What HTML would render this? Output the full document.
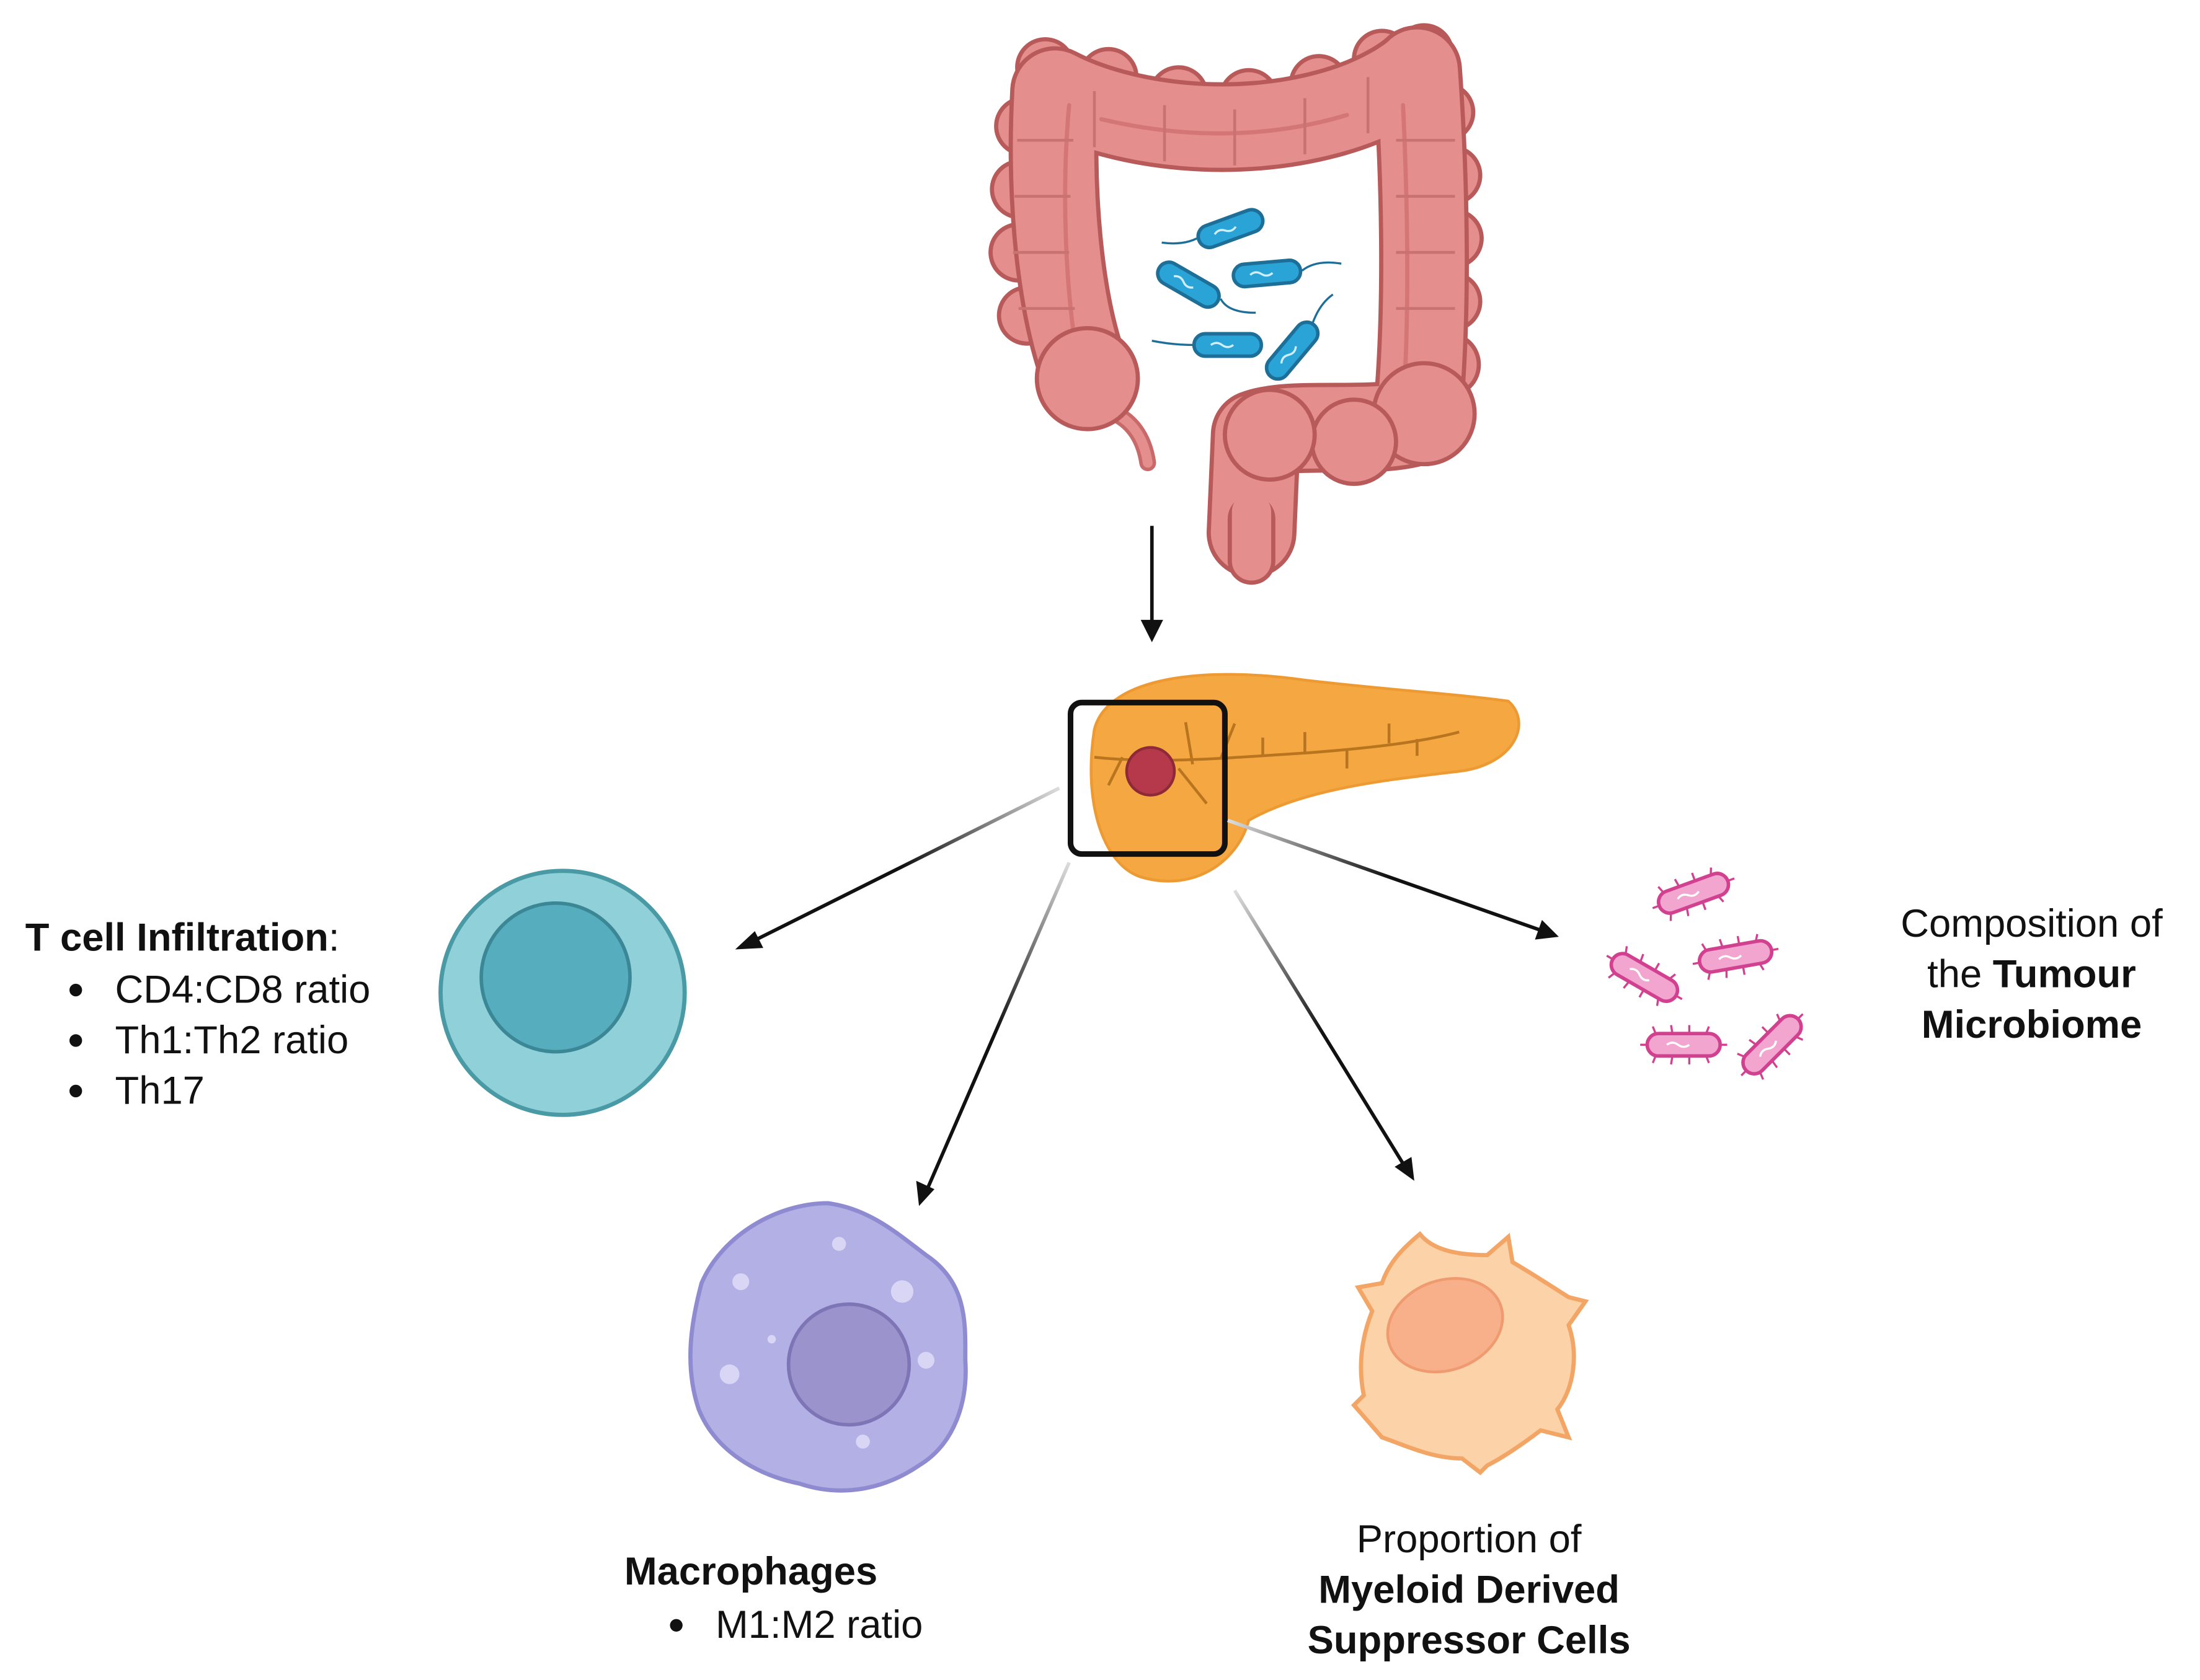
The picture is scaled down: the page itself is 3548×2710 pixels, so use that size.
<!DOCTYPE html>
<html><head><meta charset="utf-8"><style>
html,body{margin:0;padding:0;background:#fff;}
svg{display:block;}
text{font-family:"Liberation Sans",Arial,sans-serif;fill:#111;}
</style></head><body>
<svg width="3548" height="2710" viewBox="0 0 1568 1198" preserveAspectRatio="none" xmlns="http://www.w3.org/2000/svg">
<defs>
<linearGradient id="g1" gradientUnits="userSpaceOnUse" x1="755" y1="562" x2="530" y2="675"><stop offset="0" stop-color="#ddd"/><stop offset="0.5" stop-color="#111"/></linearGradient>
<linearGradient id="g2" gradientUnits="userSpaceOnUse" x1="762" y1="615" x2="658" y2="855"><stop offset="0" stop-color="#ddd"/><stop offset="0.5" stop-color="#111"/></linearGradient>
<linearGradient id="g3" gradientUnits="userSpaceOnUse" x1="880" y1="635" x2="1005" y2="838"><stop offset="0" stop-color="#ddd"/><stop offset="0.5" stop-color="#111"/></linearGradient>
<linearGradient id="g4" gradientUnits="userSpaceOnUse" x1="875" y1="585" x2="1105" y2="666"><stop offset="0" stop-color="#ddd"/><stop offset="0.5" stop-color="#111"/></linearGradient>
<g id="bb"><rect x="-24" y="-8" width="48" height="16" rx="8" fill="#2aa3d6" stroke="#1e6f98" stroke-width="2.5"/><path d="M-12,0 q4,-3 8,0 t8,0" stroke="#cdeefa" fill="none" stroke-width="1.5"/></g>
<g id="pb"><g stroke="#d2418f" stroke-width="1.5"><line x1="-20" y1="-8" x2="-22" y2="-13"/><line x1="-8" y1="-8" x2="-9" y2="-14"/><line x1="4" y1="-8" x2="4" y2="-14"/><line x1="16" y1="-8" x2="18" y2="-13"/><line x1="-20" y1="8" x2="-22" y2="13"/><line x1="-8" y1="8" x2="-9" y2="14"/><line x1="4" y1="8" x2="4" y2="14"/><line x1="16" y1="8" x2="18" y2="13"/><line x1="-26" y1="0" x2="-31" y2="0"/><line x1="26" y1="0" x2="31" y2="0"/></g><rect x="-26" y="-8" width="52" height="16" rx="8" fill="#f2a6cf" stroke="#d2418f" stroke-width="2.5"/><path d="M-12,0 q4,-3 8,0 t8,0" stroke="#fff" fill="none" stroke-width="1.5"/></g>
</defs>

<!-- colon lumps -->
<g fill="#e58e8e" stroke="#b85a5a" stroke-width="3">
<circle cx="745" cy="48" r="20"/><circle cx="730" cy="90" r="20"/><circle cx="727" cy="135" r="20"/><circle cx="726" cy="180" r="20"/><circle cx="732" cy="225" r="20"/>
<circle cx="790" cy="55" r="20"/><circle cx="840" cy="68" r="20"/><circle cx="890" cy="70" r="20"/><circle cx="940" cy="60" r="20"/><circle cx="985" cy="42" r="20"/><circle cx="1015" cy="38" r="20"/>
<circle cx="1030" cy="80" r="20"/><circle cx="1035" cy="125" r="20"/><circle cx="1036" cy="170" r="20"/><circle cx="1035" cy="215" r="20"/><circle cx="1032" cy="260" r="22"/>
</g>
<g fill="none" stroke-linecap="round" stroke-linejoin="round">
<path d="M818,330 C815,310 805,300 795,295" stroke="#c96a6a" stroke-width="12"/>
<path d="M818,330 C815,310 805,300 795,295" stroke="#e58e8e" stroke-width="7"/>
<path d="M775,270 C755,220 748,140 752,65 C800,90 880,100 950,80 C985,70 1005,55 1010,50 C1015,120 1018,220 1010,300 C980,310 920,300 895,310 L892,380" stroke="#b85a5a" stroke-width="64"/>
<path d="M775,270 C755,220 748,140 752,65 C800,90 880,100 950,80 C985,70 1005,55 1010,50 C1015,120 1018,220 1010,300 C980,310 920,300 895,310 L892,380" stroke="#e58e8e" stroke-width="58"/>
<path d="M892,370 L892,400" stroke="#b85a5a" stroke-width="34"/>
<path d="M892,365 L892,400" stroke="#e58e8e" stroke-width="28"/>
<path d="M770,265 C760,220 756,140 762,75 M785,85 C840,98 900,100 960,82 M1000,75 C1003,140 1005,220 1000,290" stroke="#d57676" stroke-width="3"/>
</g>
<g fill="#e58e8e" stroke="#b85a5a" stroke-width="3">
<circle cx="775" cy="270" r="36"/><circle cx="1015" cy="295" r="36"/><circle cx="965" cy="315" r="30"/><circle cx="905" cy="310" r="32"/>
</g>
<g fill="none" stroke="#c97272" stroke-width="2">
<path d="M725,100 h40 M723,140 h40 M722,180 h40 M726,220 h40 M780,65 v40 M830,75 v40 M880,78 v40 M930,70 v40 M975,55 v40 M995,100 h42 M995,140 h42 M995,180 h42 M995,220 h42"/>
</g>
<!-- colon bacteria -->
<use href="#bb" transform="translate(877,163) rotate(-20)"/>
<use href="#bb" transform="translate(847,203) rotate(30)"/>
<use href="#bb" transform="translate(903,195) rotate(-5)"/>
<use href="#bb" transform="translate(875,246)"/>
<use href="#bb" transform="translate(921,250) rotate(-50)"/>
<g stroke="#1e6f98" stroke-width="1.5" fill="none">
<path d="M853,170 q-10,5 -25,3"/><path d="M870,213 q5,10 25,10"/><path d="M928,193 q10,-8 28,-5"/><path d="M851,246 q-15,0 -30,-3"/><path d="M935,232 q5,-15 15,-22"/>
</g>

<!-- down arrow -->
<line x1="821" y1="375" x2="821" y2="445" stroke="#111" stroke-width="2.5"/>
<path d="M813,442 L821,458 L829,442Z" fill="#111"/>

<!-- pancreas -->
<path d="M780,520 C790,482 860,475 930,485 C990,492 1040,495 1075,500 C1092,515 1080,545 1040,550 C990,556 930,562 890,585 C882,615 850,637 812,625 C785,615 772,570 780,520Z" fill="#f5a742" stroke="#ee9a33" stroke-width="2"/>
<g fill="none" stroke="#b8741f" stroke-width="2">
<path d="M780,540 C830,545 880,540 930,537 C970,534 1010,530 1040,522"/>
<path d="M900,538 v-12 M930,536 v-14 M960,534 v14 M990,530 v-14 M1010,527 v12 M800,540 l-10,20 M840,548 l20,25 M850,545 l-5,-30 M870,541 l10,-25"/>
</g>
<circle cx="820" cy="550" r="17" fill="#b5394a" stroke="#8e2a38" stroke-width="2"/>
<rect x="763" y="501" width="110" height="108" rx="8" fill="none" stroke="#111" stroke-width="4"/>

<!-- arrows -->
<line x1="755" y1="562" x2="535" y2="672" stroke="url(#g1)" stroke-width="2.5"/>
<path d="M524,677 L538,664 L544,676Z" fill="#111"/>
<line x1="762" y1="615" x2="660" y2="850" stroke="url(#g2)" stroke-width="2.5"/>
<path d="M655,860 L653,842 L666,848Z" fill="#111"/>
<line x1="880" y1="635" x2="1002" y2="833" stroke="url(#g3)" stroke-width="2.5"/>
<path d="M1008,842 L994,832 L1006,825Z" fill="#111"/>
<line x1="875" y1="585" x2="1100" y2="664" stroke="url(#g4)" stroke-width="2.5"/>
<path d="M1111,668 L1094,670 L1099,656Z" fill="#111"/>

<!-- T cell -->
<circle cx="401" cy="708" r="87" fill="#8fd0d9" stroke="#4a9aa6" stroke-width="3"/>
<circle cx="396" cy="697" r="53" fill="#55adbe" stroke="#3b8796" stroke-width="2.5"/>
<text x="18" y="678" font-size="28"><tspan font-weight="bold">T cell Infiltration</tspan>:</text>
<g font-size="28"><text x="82" y="715">CD4:CD8 ratio</text><text x="82" y="751">Th1:Th2 ratio</text><text x="82" y="787">Th17</text></g>
<g fill="#111"><circle cx="54" cy="706" r="4.5"/><circle cx="54" cy="742" r="4.5"/><circle cx="54" cy="778" r="4.5"/></g>

<!-- macrophage -->
<path d="M590,858 C620,862 640,880 660,895 C690,915 688,945 688,970 C690,1000 680,1030 655,1045 C630,1062 600,1068 570,1058 C540,1052 510,1035 498,1005 C488,975 492,945 500,915 C515,880 555,858 590,858Z" fill="#b3b0e6" stroke="#8f8bd1" stroke-width="3"/>
<g fill="#d8d6f4"><circle cx="528" cy="914" r="6"/><circle cx="643" cy="921" r="8"/><circle cx="598" cy="887" r="5"/><circle cx="520" cy="980" r="7"/><circle cx="660" cy="970" r="6"/><circle cx="615" cy="1028" r="5"/><circle cx="550" cy="955" r="3"/></g>
<circle cx="605" cy="973" r="43" fill="#9b93cc" stroke="#7d75b6" stroke-width="2.5"/>
<text x="445" y="1130" font-size="28" font-weight="bold">Macrophages</text>
<circle cx="482" cy="1159" r="4.5" fill="#111"/>
<text x="510" y="1168" font-size="28">M1:M2 ratio</text>

<!-- MDSC -->
<path d="M1012,880 C1020,890 1035,895 1060,895 L1075,882 L1078,900 C1095,910 1110,920 1118,925 L1130,928 L1118,945 C1125,965 1122,990 1110,1005 L1118,1025 L1098,1020 C1085,1030 1070,1040 1060,1045 L1055,1050 L1042,1040 C1020,1040 1000,1030 985,1025 L965,1002 L972,995 C968,975 970,955 978,935 L968,918 L985,915 C990,900 1000,890 1012,880Z" fill="#fcd3a8" stroke="#f2a565" stroke-width="3"/>
<ellipse cx="1030" cy="945" rx="42" ry="32" transform="rotate(-20 1030 945)" fill="#f8b08a" stroke="#f09a70" stroke-width="2"/>
<g font-size="28" text-anchor="middle"><text x="1047" y="1107">Proportion of</text><text x="1047" y="1143" font-weight="bold">Myeloid Derived</text><text x="1047" y="1179" font-weight="bold">Suppressor Cells</text></g>

<!-- pink bacteria -->
<use href="#pb" transform="translate(1207,637) rotate(-20)"/>
<use href="#pb" transform="translate(1172,697) rotate(30)"/>
<use href="#pb" transform="translate(1237,682) rotate(-10)"/>
<use href="#pb" transform="translate(1200,745)"/>
<use href="#pb" transform="translate(1263,745) rotate(-45)"/>
<g font-size="28" text-anchor="middle"><text x="1448" y="668">Composition of</text><text x="1448" y="704">the <tspan font-weight="bold">Tumour</tspan></text><text x="1448" y="740" font-weight="bold">Microbiome</text></g>
</svg>
</body></html>
